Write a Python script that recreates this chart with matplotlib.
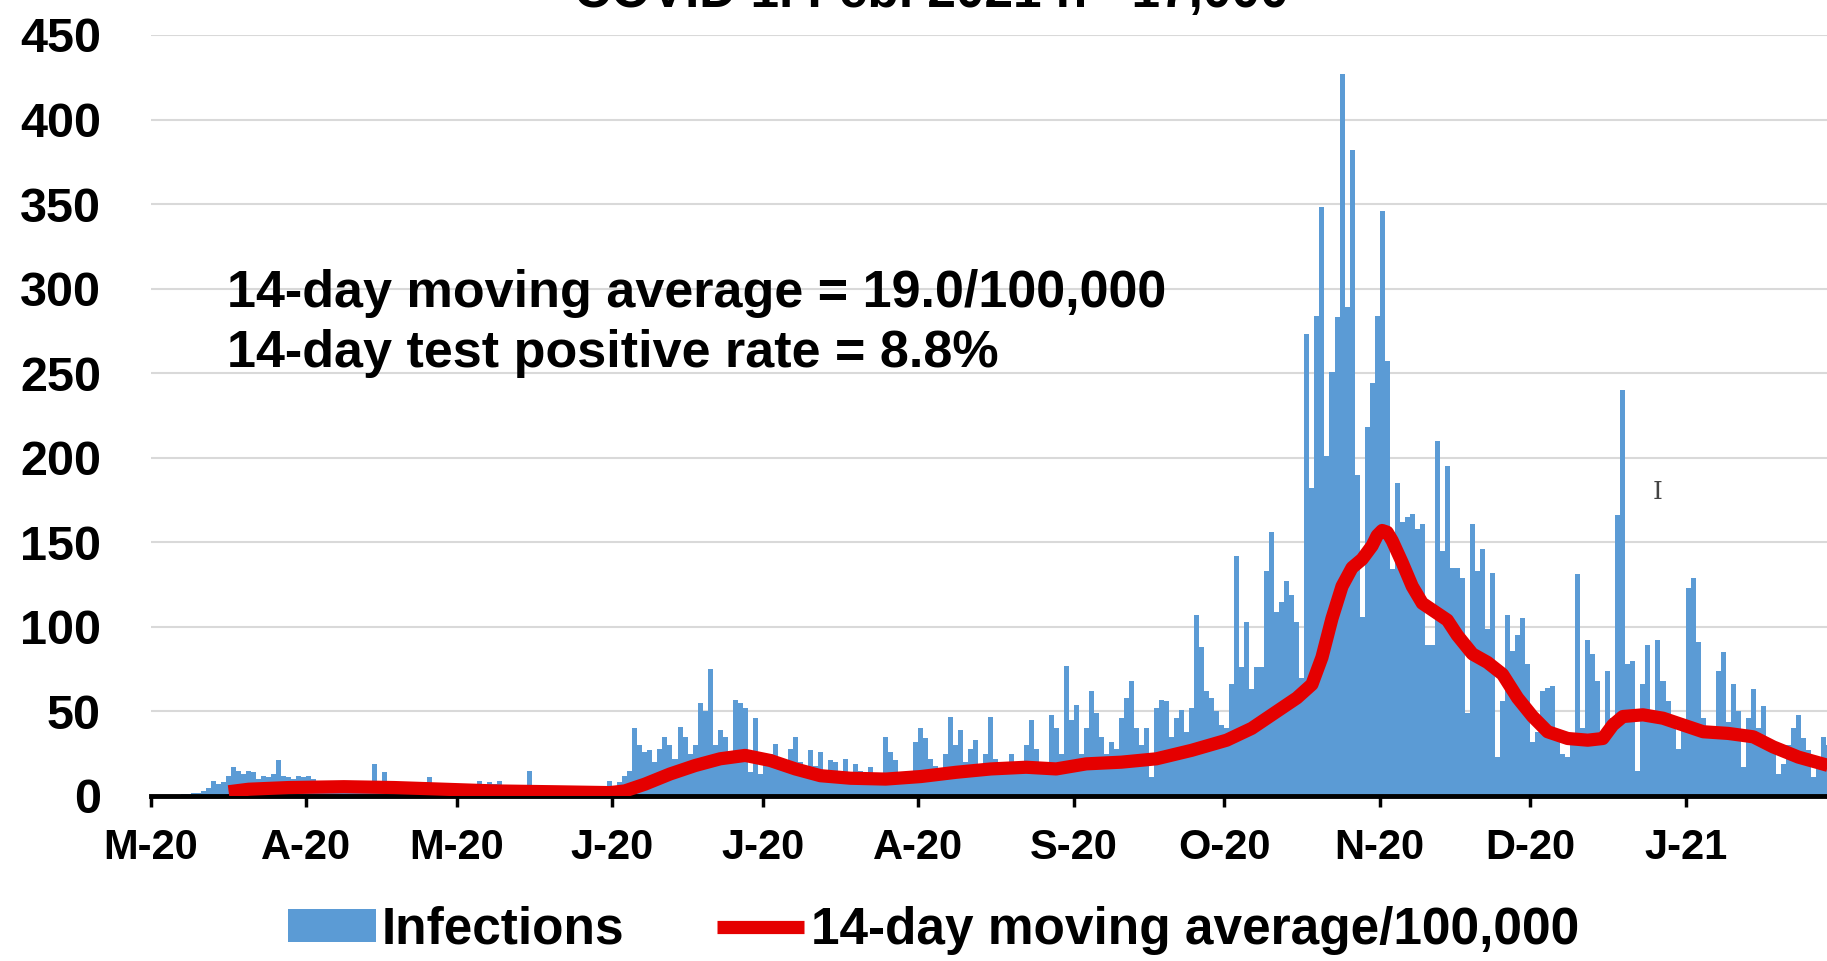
import matplotlib
matplotlib.use('Agg')
import matplotlib.pyplot as plt
import matplotlib.dates as mdates
import pandas as pd

# Daily infections (1 Mar 2020 - 29 Jan 2021)
mar = [0, 0, 0, 0, 0, 0, 1, 1, 2, 2, 3, 5, 9, 7, 8, 12, 17, 15, 13, 15, 14, 10, 12, 11, 13, 21, 12, 11, 10, 12, 11]
apr = [12, 10, 9, 8, 6, 7, 5, 6, 8, 7, 5, 4, 6, 19, 9, 14, 7, 6, 4, 3, 5, 6, 4, 5, 11, 4, 3, 3, 4, 3]
may = [3, 2, 4, 5, 9, 6, 8, 7, 9, 4, 3, 5, 3, 4, 15, 3, 2, 3, 2, 4, 3, 2, 1, 2, 3, 2, 2, 3, 4, 6, 9]
jun = [5, 8, 12, 15, 40, 30, 26, 27, 20, 28, 35, 30, 22, 41, 35, 25, 30, 55, 50, 75, 30, 39, 35, 25, 57, 55, 52, 14, 46, 13]
jul = [20, 25, 31, 22, 18, 28, 35, 20, 15, 27, 18, 26, 8, 21, 20, 14, 22, 13, 19, 15, 10, 17, 12, 10, 35, 26, 21, 12, 10, 15, 32]
aug = [40, 34, 22, 18, 15, 25, 47, 30, 39, 20, 28, 33, 18, 25, 47, 22, 16, 20, 25, 18, 15, 30, 45, 28, 20, 17, 48, 40, 25, 77, 45]
sep = [54, 25, 40, 62, 49, 35, 25, 32, 28, 46, 58, 68, 40, 30, 40, 11, 52, 57, 56, 35, 46, 51, 38, 52, 107, 88, 62, 58, 50, 42]
oct_ = [40, 66, 142, 76, 103, 63, 76, 76, 133, 156, 109, 115, 127, 119, 103, 70, 273, 182, 284, 348, 201, 251, 283, 427, 289, 382, 190, 106, 218, 244, 284]
nov = [346, 257, 134, 185, 162, 165, 167, 158, 161, 89, 89, 210, 145, 195, 135, 135, 129, 49, 161, 133, 146, 99, 132, 23, 56, 107, 86, 95, 105, 78]
dec = [32, 38, 62, 64, 65, 36, 25, 23, 30, 131, 40, 92, 84, 68, 38, 74, 46, 166, 240, 78, 80, 15, 66, 89, 50, 92, 68, 56, 46, 28, 40]
jan = [123, 129, 91, 46, 36, 34, 74, 85, 44, 66, 50, 17, 46, 63, 40, 53, 30, 27, 13, 19, 30, 40, 48, 34, 27, 11, 17, 35, 30]

infections = mar + apr + may + jun + jul + aug + sep + oct_ + nov + dec + jan

# 14-day moving average per 100,000 (red line), read at selected days
ma_dates = ['2020-03-16', '2020-03-20', '2020-03-28', '2020-04-08', '2020-04-18', '2020-04-28',
            '2020-05-08', '2020-05-20', '2020-05-31', '2020-06-03', '2020-06-07', '2020-06-12',
            '2020-06-17', '2020-06-22', '2020-06-27', '2020-07-02', '2020-07-07', '2020-07-12',
            '2020-07-18', '2020-07-25', '2020-08-01', '2020-08-08', '2020-08-15', '2020-08-22',
            '2020-08-28', '2020-09-03', '2020-09-10', '2020-09-17', '2020-09-24', '2020-10-01',
            '2020-10-06', '2020-10-11', '2020-10-15', '2020-10-18', '2020-10-20', '2020-10-22',
            '2020-10-24', '2020-10-26', '2020-10-28', '2020-10-30', '2020-10-31', '2020-11-01',
            '2020-11-02', '2020-11-03', '2020-11-05', '2020-11-07', '2020-11-09', '2020-11-12',
            '2020-11-14', '2020-11-16', '2020-11-19', '2020-11-22', '2020-11-25', '2020-11-28',
            '2020-12-01', '2020-12-04', '2020-12-08', '2020-12-12', '2020-12-15', '2020-12-17',
            '2020-12-19', '2020-12-23', '2020-12-27', '2020-12-31', '2021-01-04', '2021-01-09',
            '2021-01-14', '2021-01-18', '2021-01-23', '2021-01-29']
ma_values = [2.5, 4, 5, 5.5, 5, 4,
             3, 2.5, 2, 3, 7, 13,
             18, 22, 24, 21, 16, 12,
             10.5, 10, 11.5, 14, 16, 17,
             16, 19, 20, 22, 27, 33,
             40, 50, 58, 66, 82, 105,
             124, 135, 140, 148, 154, 157,
             156, 151, 138, 124, 114, 108,
             104, 95, 84, 79, 72, 58,
             47, 38, 34, 33, 34, 42,
             47, 48, 46, 42, 38, 37,
             35, 29, 23, 18]

month_labels = ['M-20', 'A-20', 'M-20', 'J-20', 'J-20', 'A-20', 'S-20', 'O-20', 'N-20', 'D-20', 'J-21']

plt.rcParams['font.family'] = ['Liberation Sans', 'DejaVu Sans']
plt.rcParams['font.weight'] = 'bold'

fig = plt.figure(figsize=(18.27, 9.61), dpi=100)
ax = fig.add_axes([0.0826, 0.1717, 0.9174, 0.7919])

dates = pd.date_range('2020-03-01', periods=len(infections), freq='D')
bars = ax.bar(dates, infections, width=1.0, align='edge', color='#5B9BD5',
              label='Infections', zorder=2)

ma_x = pd.to_datetime(ma_dates) + pd.Timedelta(hours=12)
line, = ax.plot(ma_x, ma_values, color='#E50000', lw=9.5, solid_capstyle='butt',
                solid_joinstyle='round', label='14-day moving average/100,000', zorder=3)

# axes
ax.set_ylim(0, 450)
ax.set_yticks(range(0, 451, 50))
x0 = mdates.date2num(pd.Timestamp('2020-03-01'))
ax.set_xlim(x0, x0 + 334.2)
ax.set_xticks(pd.date_range('2020-03-01', '2021-01-01', freq='MS'))
ax.set_xticklabels(month_labels)

for side in ['top', 'right', 'left']:
    ax.spines[side].set_visible(False)
ax.spines['bottom'].set_linewidth(3.5)
ax.spines['bottom'].set_color('black')
ax.spines['bottom'].set_zorder(2.5)

ax.tick_params(axis='x', length=8, width=2.5, pad=15, labelsize=30)
ax.tick_params(axis='y', length=0, pad=36, labelsize=35)
ax.yaxis.grid(True, color='#D9D9D9', lw=1.5)
ax.set_axisbelow(True)

# text in the plot
fig.text(0.124, 0.681, '14-day moving average = 19.0/100,000', fontsize=37.5, va='baseline')
fig.text(0.124, 0.618, '14-day test positive rate = 8.8%', fontsize=37.5, va='baseline')

# title, cut off at the top of the picture
fig.text(0.51, 0.993, 'COVID 1. Feb. 2021 n= 17,000', fontsize=37, ha='center', va='baseline')

# cursor mark left in the screenshot
fig.text(0.907, 0.487, 'I', family='DejaVu Serif', fontweight='normal', fontsize=18,
         color='#444444', ha='center', va='center')

fig.legend([bars, line], ['Infections', '14-day moving average/100,000'],
           loc='center', bbox_to_anchor=(0.511, 0.032), ncol=2, frameon=False, fontsize=37,
           handlelength=1.7, handleheight=0.6, handletextpad=0.12, columnspacing=1.8)

fig.savefig('out.png', dpi=100)
